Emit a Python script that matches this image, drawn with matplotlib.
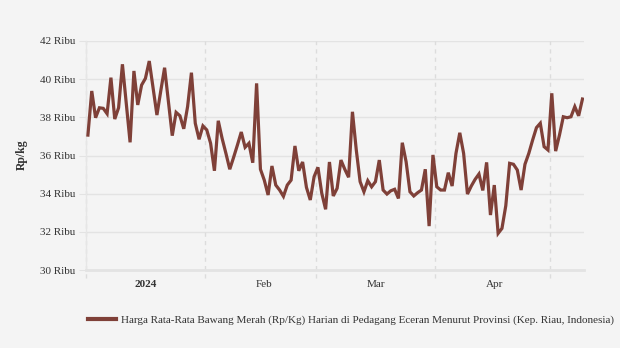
import matplotlib
matplotlib.use("Agg")
import matplotlib.pyplot as plt
import numpy as np

# Daily prices (Ribu Rp/kg), 1 Jan 2024 .. 9 May 2024
values = [
    37.07, 39.38, 37.98, 38.50, 38.47, 38.19, 40.08, 37.91, 38.50, 40.78,
    38.75, 36.69, 40.43, 38.65, 39.69, 40.04, 40.95, 39.54, 38.12, 39.38,
    40.60, 38.80, 37.04, 38.26, 38.08, 37.40, 38.56, 40.34, 37.69, 36.85,
    37.55, 37.34, 36.64, 35.20, 37.82, 36.90, 36.11, 35.28, 35.90, 36.55,
    37.23, 36.43, 36.64, 35.62, 39.78, 35.28, 34.71, 33.93, 35.45, 34.45,
    34.19, 33.86, 34.45, 34.71, 36.50, 35.20, 35.66, 34.33, 33.67, 34.89,
    35.38, 34.02, 33.18, 35.66, 33.88, 34.28, 35.76, 35.28, 34.86, 38.29,
    36.29, 34.63, 34.10, 34.68, 34.36, 34.63, 35.76, 34.19, 33.98, 34.15,
    34.23, 33.75, 36.67, 35.67, 34.10, 33.88, 34.05, 34.19, 35.28, 32.30,
    36.03, 34.36, 34.19, 34.19, 35.10, 34.40, 36.11, 37.19, 36.11, 33.98,
    34.40, 34.75, 35.03, 34.17, 35.64, 32.88, 34.45, 31.92, 32.18, 33.37,
    35.59, 35.54, 35.24, 34.19, 35.54, 36.11, 36.81, 37.46, 37.69, 36.46,
    36.29, 39.26, 36.23, 37.07, 38.03, 37.98, 38.03, 38.56, 38.08, 38.96,
]
days = list(range(len(values)))

month_starts = [0, 31, 60, 91, 121]
month_labels = ["2024", "Feb", "Mar", "Apr"]
month_label_days = [15, 46, 75, 106]
y_ticks = [30, 32, 34, 36, 38, 40, 42]
y_ticklabels = [f"{v} Ribu" for v in y_ticks]
series_name = "Harga Rata-Rata Bawang Merah (Rp/Kg) Harian di Pedagang Eceran Menurut Provinsi (Kep. Riau, Indonesia)"

bg = "#f4f4f4"
line_color = "#7f4038"
serif = ["Liberation Serif", "DejaVu Serif"]

fig = plt.figure(figsize=(6.2, 3.48), dpi=100, facecolor=bg)
ax = fig.add_axes([86/620, 1-270/348, (584-86)/620, (270-41)/348])
ax.set_facecolor(bg)

ax.set_ylim(30, 42)
ax.set_xlim(-0.5, 129.4)

# horizontal grid
for v in y_ticks:
    ax.axhline(v, color="#e3e3e3", lw=1, zorder=0)
# vertical dashed month lines (at month boundaries)
for m in month_starts:
    ax.plot([m - 0.5, m - 0.5], [29.6, 42], color="#dcdcdc", lw=1, ls=(0, (3, 3)),
            clip_on=False, zorder=0)

ax.plot(days, values, color=line_color, lw=2.3, solid_joinstyle="miter",
        zorder=3, label=series_name)

ax.set_yticks(y_ticks)
ax.set_yticklabels(y_ticklabels, fontfamily=serif, fontsize=8, color="#333333")
ax.tick_params(axis="y", length=5, color="#e3e3e3", pad=3)
ax.set_xticks(month_label_days)
ax.set_xticklabels(month_labels, fontfamily=serif, fontsize=8, color="#333333")
ax.get_xticklabels()[0].set_fontweight("bold")
ax.tick_params(axis="x", length=0, pad=7)

for s in ["top", "right"]:
    ax.spines[s].set_visible(False)
ax.spines["left"].set_color("#e6e6e6")
ax.spines["left"].set_linewidth(1)
ax.spines["bottom"].set_color("#e3e3e3")
ax.spines["bottom"].set_linewidth(2)

fig.text(22/620, 1-155/348, "Rp/kg", rotation=90, ha="center", va="center",
         fontfamily=serif, fontsize=8.5, fontweight="bold", color="#333333")

leg = fig.legend(loc="center", bbox_to_anchor=(351/620, 1-320/348), frameon=False,
                 prop={"family": serif, "size": 8}, handlelength=2.5,
                 handletextpad=0.5, labelcolor="#333333")
for l in leg.get_lines():
    l.set_linewidth(3)

fig.savefig("out.png", dpi=100, facecolor=bg)
